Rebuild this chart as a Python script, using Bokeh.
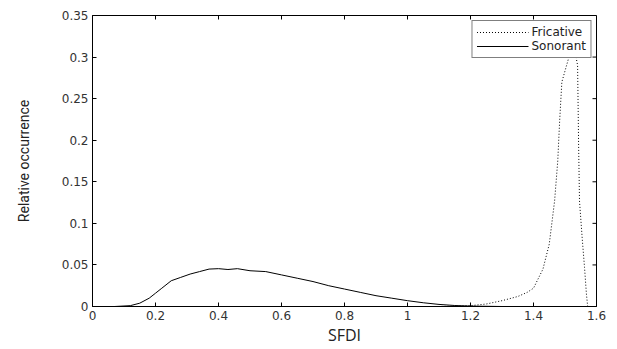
import math
from bokeh.plotting import figure
from bokeh.models import FixedTicker, Legend, LegendItem, Range1d
from bokeh.embed import file_html
from bokeh.resources import INLINE

# ---- data ----
fric_x = [0.07, 1.1, 1.2, 1.25, 1.3, 1.35, 1.38, 1.4, 1.43, 1.45, 1.467, 1.477,
          1.483, 1.49, 1.505, 1.52, 1.53, 1.54, 1.543, 1.546, 1.555, 1.562, 1.568, 1.572]
fric_y = [0.0, 0.0, 0.001, 0.003, 0.007, 0.012, 0.017, 0.022, 0.045, 0.075, 0.127, 0.175,
          0.223, 0.27, 0.29, 0.31, 0.31, 0.29, 0.2, 0.127, 0.08, 0.047, 0.015, 0.0]

son_x = [0.07, 0.12, 0.15, 0.18, 0.2, 0.22, 0.25, 0.28, 0.31, 0.34, 0.37, 0.4, 0.43,
         0.46, 0.5, 0.55, 0.6, 0.65, 0.7, 0.75, 0.8, 0.85, 0.9, 0.95, 1.0, 1.05, 1.1,
         1.15, 1.2, 1.3, 1.54]
son_y = [0.0, 0.001, 0.004, 0.01, 0.016, 0.022, 0.031, 0.035, 0.039, 0.042, 0.045, 0.0455,
         0.0445, 0.0455, 0.043, 0.042, 0.038, 0.034, 0.03, 0.025, 0.021, 0.017, 0.013,
         0.01, 0.007, 0.0045, 0.0025, 0.0012, 0.0005, 0.0, 0.0]

x_ticks = [0, 0.2, 0.4, 0.6, 0.8, 1.0, 1.2, 1.4, 1.6]
x_tick_labels = ["0", "0.2", "0.4", "0.6", "0.8", "1", "1.2", "1.4", "1.6"]
y_ticks = [0, 0.05, 0.1, 0.15, 0.2, 0.25, 0.3, 0.35]
y_tick_labels = ["0", "0.05", "0.1", "0.15", "0.2", "0.25", "0.3", "0.35"]

series_names = ["Fricative", "Sonorant"]

TICK_FONT = "DejaVu Sans"
X_MIN, X_MAX = 0, 1.6
Y_MIN, Y_MAX = 0, 0.35

p = figure(frame_width=504, frame_height=291, output_backend="svg", toolbar_location=None,
           x_range=Range1d(X_MIN, X_MAX), y_range=Range1d(Y_MIN, Y_MAX),
           min_border_left=92, min_border_right=20, min_border_top=15, min_border_bottom=42,
           x_axis_label="SFDI", y_axis_label="Relative occurrence")
p.xgrid.visible = False
p.ygrid.visible = False
p.outline_line_color = "black"
p.outline_line_width = 1
p.background_fill_color = "white"
p.border_fill_color = "white"

def style_axis(ax, ticks, labels):
    ax.ticker = FixedTicker(ticks=ticks)
    ax.major_label_overrides = {t: l for t, l in zip(ticks, labels)}
    ax.major_tick_in = 4
    ax.major_tick_out = 0
    ax.minor_tick_in = 0
    ax.minor_tick_out = 0
    ax.axis_line_color = "black"
    ax.major_tick_line_color = "black"
    ax.major_label_text_font = TICK_FONT
    ax.major_label_text_font_size = "12px"
    ax.major_label_text_color = "#333333"
    ax.major_label_standoff = 4

style_axis(p.xaxis[0], x_ticks, x_tick_labels)
style_axis(p.yaxis[0], y_ticks, y_tick_labels)
p.xaxis[0].axis_label_text_font = "Open Sans"
p.xaxis[0].axis_label_text_font_style = "normal"
p.xaxis[0].axis_label_text_font_size = "16px"
p.xaxis[0].axis_label_text_color = "#222222"
p.xaxis[0].axis_label_standoff = 1
p.yaxis[0].axis_label_text_font = "Roboto"
p.yaxis[0].axis_label_text_font_style = "normal"
p.yaxis[0].axis_label_text_font_size = "14px"
p.yaxis[0].axis_label_text_color = "#222222"
p.yaxis[0].axis_label_standoff = 27

# mirrored inward ticks on the top and right frame edges (MATLAB box style)
p.ray(x=x_ticks, y=[Y_MAX] * len(x_ticks), length=4, length_units="screen",
      angle=-math.pi / 2, line_color="black", line_width=1)
p.ray(x=[X_MAX] * len(y_ticks), y=y_ticks, length=4, length_units="screen",
      angle=math.pi, line_color="black", line_width=1)

r_f = p.line(fric_x, fric_y, line_color="black", line_width=1, line_dash="1 2")
r_s = p.line(son_x, son_y, line_color="black", line_width=1)

legend = Legend(items=[LegendItem(label=series_names[0], renderers=[r_f]),
                       LegendItem(label=series_names[1], renderers=[r_s])],
                location="top_right")
legend.margin = 5
legend.padding = 4
legend.spacing = 0
legend.glyph_width = 52
legend.glyph_height = 14
legend.label_height = 14
legend.label_standoff = 3
legend.label_text_font = TICK_FONT
legend.label_text_font_size = "12px"
legend.label_text_color = "#222222"
legend.border_line_color = "black"
legend.border_line_width = 1
legend.background_fill_alpha = 1.0
p.add_layout(legend, "center")

open("out.html", "w").write(file_html(p, INLINE))
